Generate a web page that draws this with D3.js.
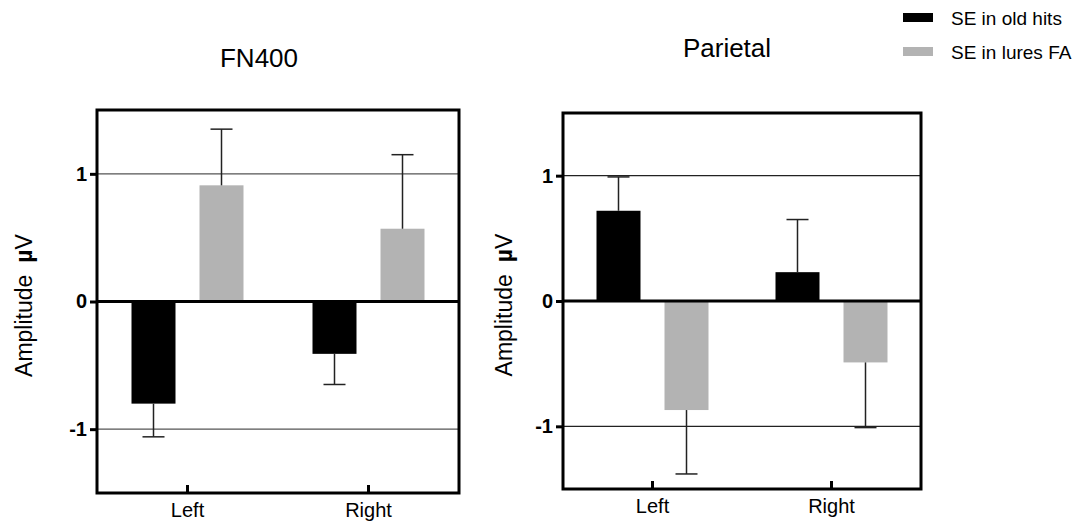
<!DOCTYPE html>
<html lang="en">
  <head>
    <meta charset='utf-8'>
    <script src='https://d3js.org/d3.v7.min.js'></script>
    <title>FN400 / Parietal amplitudes</title>
    <style>
      body {
        margin: 0px;
        background: #fff;
      }
      text {
        font-family: 'Liberation Sans', Arial, sans-serif;
        fill: #000;
      }
      .domain {
        display: none;
      }
      .y-axis text {
        font-size: 20px;
        font-weight: bold;
      }
      .x-axis text {
        font-size: 20px;
      }
      .tick line {
        stroke: #000;
        stroke-width: 3px;
      }
      .title {
        font-size: 26px;
      }
      .axis-label {
        font-size: 23px;
      }
      .legend-label {
        font-size: 19px;
      }
    </style>
  </head>
  <body>
    <div id='viz'></div>

    <script>
      // values
      const categories = ['Left', 'Right'];
      const seriesNames = ['SE in old hits', 'SE in lures FA'];
      const seriesColors = ['#000000', '#b3b3b3'];
      const yTicks = [-1, 0, 1];

      const fn400Hits = [-0.80, -0.41];
      const fn400HitsErr = [0.26, 0.24];
      const fn400Lures = [0.91, 0.57];
      const fn400LuresErr = [0.44, 0.58];

      const parietalHits = [0.72, 0.23];
      const parietalHitsErr = [0.27, 0.42];
      const parietalLures = [-0.87, -0.49];
      const parietalLuresErr = [0.51, 0.52];

      const width = 1078;
      const height = 522;

      // panel boxes (pixels)
      const panels = [
        { title: 'FN400', titleX: 259, titleY: 67, labelX: 32, grid: '#555',
          left: 97, right: 459, top: 110, bottom: 493,
          values: [fn400Hits, fn400Lures], errors: [fn400HitsErr, fn400LuresErr] },
        { title: 'Parietal', titleX: 727, titleY: 57, labelX: 512, grid: '#222',
          left: 563, right: 921, top: 113, bottom: 489,
          values: [parietalHits, parietalLures], errors: [parietalHitsErr, parietalLuresErr] }
      ];

      const svg = d3.select('#viz').append('svg')
        .attr('width', width)
        .attr('height', height);

      panels.forEach(p => {
        const xScale = d3.scaleBand()
          .domain(categories)
          .range([p.left, p.right])
          .padding(0);

        const yScale = d3.scaleLinear()
          .domain([-1.5, 1.5])
          .range([p.bottom, p.top]);

        // bars inside each category: 44px wide, 24px gap
        const bw = xScale.bandwidth();
        const inner = d3.scaleBand()
          .domain(seriesNames)
          .range([bw / 2 - 56, bw / 2 + 56])
          .paddingInner(0.353);

        const g = svg.append('g');

        // grid lines at +-1
        g.selectAll('.grid')
          .data([-1, 1])
          .enter().append('line')
            .attr('x1', p.left)
            .attr('x2', p.right)
            .attr('y1', d => yScale(d))
            .attr('y2', d => yScale(d))
            .attr('stroke', p.grid)
            .attr('stroke-width', 1.2);

        // bars
        seriesNames.forEach((s, si) => {
          const rows = categories.map((c, ci) => ({
            cat: c, v: p.values[si][ci], e: p.errors[si][ci]
          }));

          g.selectAll('.bar-' + si)
            .data(rows)
            .enter().append('rect')
              .attr('x', d => xScale(d.cat) + inner(s))
              .attr('width', inner.bandwidth())
              .attr('y', d => yScale(Math.max(0, d.v)))
              .attr('height', d => Math.abs(yScale(d.v) - yScale(0)))
              .attr('fill', seriesColors[si]);

          // error bars go away from zero
          const cx = d => xScale(d.cat) + inner(s) + inner.bandwidth() / 2;
          const tip = d => yScale(d.v + Math.sign(d.v) * d.e);

          g.selectAll('.err-' + si)
            .data(rows)
            .enter().append('line')
              .attr('x1', cx)
              .attr('x2', cx)
              .attr('y1', d => yScale(d.v))
              .attr('y2', tip)
              .attr('stroke', '#222')
              .attr('stroke-width', 1.5);

          g.selectAll('.cap-' + si)
            .data(rows)
            .enter().append('line')
              .attr('x1', d => cx(d) - 11)
              .attr('x2', d => cx(d) + 11)
              .attr('y1', tip)
              .attr('y2', tip)
              .attr('stroke', '#222')
              .attr('stroke-width', 1.5);
        });

        // zero line
        g.append('line')
          .attr('x1', p.left)
          .attr('x2', p.right)
          .attr('y1', yScale(0))
          .attr('y2', yScale(0))
          .attr('stroke', '#000')
          .attr('stroke-width', 3);

        // frame
        g.append('rect')
          .attr('x', p.left)
          .attr('y', p.top)
          .attr('width', p.right - p.left)
          .attr('height', p.bottom - p.top)
          .attr('fill', 'none')
          .attr('stroke', '#000')
          .attr('stroke-width', 3);

        // plain hyphen for negatives, like the original
        const yAxis = d3.axisLeft(yScale)
          .tickValues(yTicks)
          .tickFormat(d => String(d))
          .tickSize(7)
          .tickPadding(3);

        g.append('g')
          .attr('class', 'y-axis')
          .attr('transform', `translate(${p.left},0)`)
          .call(yAxis);

        const xAxis = d3.axisBottom(xScale)
          .tickSize(-8)
          .tickPadding(10);

        g.append('g')
          .attr('class', 'x-axis')
          .attr('transform', `translate(0,${p.bottom})`)
          .call(xAxis);

        // title
        g.append('text')
          .attr('class', 'title')
          .attr('x', p.titleX)
          .attr('y', p.titleY)
          .style('text-anchor', 'middle')
          .text(p.title);

        // y label
        const lab = g.append('text')
          .attr('class', 'axis-label')
          .attr('transform', `translate(${p.labelX},${yScale(0) + 4}) rotate(-90)`)
          .style('text-anchor', 'middle');
        lab.append('tspan').text('Amplitude');
        lab.append('tspan').attr('dx', 12).style('font-weight', 'bold').text('µ');
        lab.append('tspan').text('V');
      });

      // legend
      const legend = svg.append('g')
        .attr('transform', 'translate(903,13)');

      const items = legend.selectAll('g')
        .data(seriesNames)
        .enter().append('g')
          .attr('transform', (d, i) => `translate(0,${i * 34})`);

      items.append('rect')
        .attr('width', 30)
        .attr('height', 9)
        .attr('fill', (d, i) => seriesColors[i]);

      items.append('text')
        .attr('class', 'legend-label')
        .attr('x', 48)
        .attr('y', 12)
        .text(d => d);
    </script>
  </body>
</html>
